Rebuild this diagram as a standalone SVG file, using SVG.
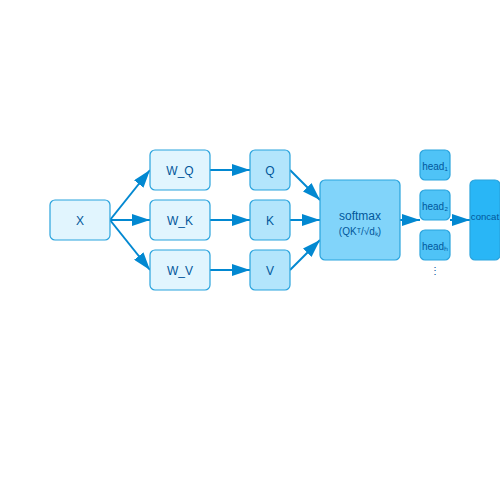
<svg xmlns="http://www.w3.org/2000/svg" width="500" height="500" viewBox="0 0 500 500">
<style>
.n{stroke:#29a3dd;stroke-width:1.2}
.t{font-family:"Liberation Sans",Arial,sans-serif;fill:#01579b;text-anchor:middle;dominant-baseline:central}
.e{stroke:#0288d1;stroke-width:2;fill:none;marker-end:url(#ah)}
</style>
<defs>
<marker id="ah" viewBox="0 0 10 10" refX="10" refY="5" markerWidth="18" markerHeight="12" markerUnits="userSpaceOnUse" orient="auto" preserveAspectRatio="none">
<path d="M0,0 L10,5 L0,10 z" fill="#0288d1"/>
</marker>
</defs>
<rect width="500" height="500" fill="#ffffff"/>
<g id="connectors">
<line class="e" x1="110" y1="220" x2="150" y2="170"/>
<line class="e" x1="110" y1="220" x2="150" y2="220"/>
<line class="e" x1="110" y1="220" x2="150" y2="270"/>
<line class="e" x1="210" y1="170" x2="250" y2="170"/>
<line class="e" x1="210" y1="220" x2="250" y2="220"/>
<line class="e" x1="210" y1="270" x2="250" y2="270"/>
<line class="e" x1="290" y1="170" x2="320" y2="200"/>
<line class="e" x1="290" y1="220" x2="320" y2="220"/>
<line class="e" x1="290" y1="270" x2="320" y2="240"/>
<line class="e" x1="400" y1="220" x2="420" y2="220"/>
<line class="e" x1="450" y1="220" x2="470" y2="220"/>
</g>
<g id="X"><rect class="n" x="50" y="200" width="60" height="40" rx="5" fill="#e1f5fe"/><text class="t" x="80" y="221" font-size="12">X</text></g>
<g id="WQ"><rect class="n" x="150" y="150" width="60" height="40" rx="5" fill="#e1f5fe"/><text class="t" x="180" y="171" font-size="12">W_Q</text></g>
<g id="WK"><rect class="n" x="150" y="200" width="60" height="40" rx="5" fill="#e1f5fe"/><text class="t" x="180" y="221" font-size="12">W_K</text></g>
<g id="WV"><rect class="n" x="150" y="250" width="60" height="40" rx="5" fill="#e1f5fe"/><text class="t" x="180" y="271" font-size="12">W_V</text></g>
<g id="Q"><rect class="n" x="250" y="150" width="40" height="40" rx="5" fill="#b3e5fc"/><text class="t" x="270" y="171" font-size="12">Q</text></g>
<g id="K"><rect class="n" x="250" y="200" width="40" height="40" rx="5" fill="#b3e5fc"/><text class="t" x="270" y="221" font-size="12">K</text></g>
<g id="V"><rect class="n" x="250" y="250" width="40" height="40" rx="5" fill="#b3e5fc"/><text class="t" x="270" y="271" font-size="12">V</text></g>
<g id="softmax"><rect class="n" x="320" y="180" width="80" height="80" rx="5" fill="#81d4fa"/><text class="t" x="360" y="216" font-size="12">softmax</text><text class="t" x="360" y="231.5" font-size="10">(QKᵀ/√dₖ)</text></g>
<g id="head1"><rect class="n" x="420" y="150" width="30" height="30" rx="5" fill="#4fc3f7"/><text class="t" x="435" y="166" font-size="10">head₁</text></g>
<g id="head2"><rect class="n" x="420" y="190" width="30" height="30" rx="5" fill="#4fc3f7"/><text class="t" x="435" y="206" font-size="10">head₂</text></g>
<g id="head3"><rect class="n" x="420" y="230" width="30" height="30" rx="5" fill="#4fc3f7"/><text class="t" x="435" y="246" font-size="10">headₕ</text></g>
<text class="t" x="435" y="270" font-size="10">⋮</text>
<g id="concat"><rect class="n" x="470" y="180" width="30" height="80" rx="5" fill="#29b6f6"/><text class="t" x="485" y="216" font-size="9.6">concat</text></g>
</svg>
